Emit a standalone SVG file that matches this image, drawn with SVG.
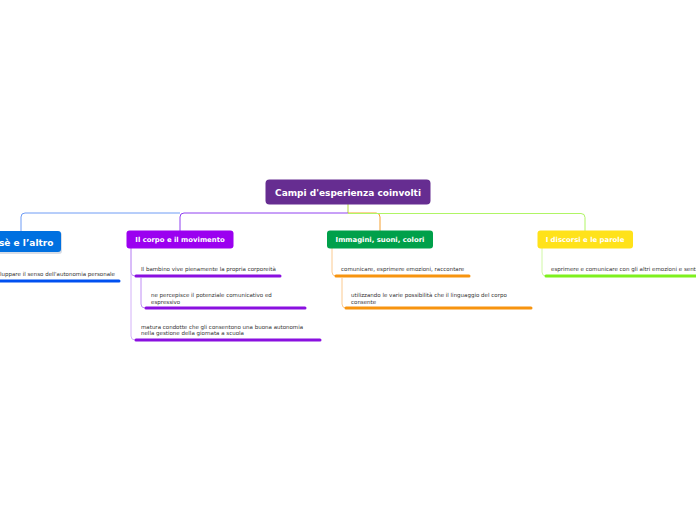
<svg xmlns="http://www.w3.org/2000/svg" width="696" height="520" viewBox="0 0 696 520">
<style>
.bg{fill:#ffffff}
.nt{font-family:"DejaVu Sans",Verdana,sans-serif;font-weight:bold;fill:#ffffff}
.ct{font-family:"DejaVu Sans",Verdana,sans-serif;font-size:5.5px;fill:#333333}
.c{fill:none;stroke-width:1}
.u{fill:none;stroke-width:3;stroke-linecap:round}
</style>
<rect class="bg" width="696" height="520"/>
<g id="connectors">
  <path class="c" d="M348 204 V213" stroke="#b5d93a"/>
  <path class="c" d="M180 213 H25 Q21 213 21 217 V232" stroke="#6f9cf5"/>
  <path class="c" d="M348 213 H184 Q180 213 180 217 V231" stroke="#9040f0"/>
  <path class="c" d="M348 213 H376 Q380 213 380 217 V231" stroke="#f5a030"/>
  <path class="c" d="M348 213.5 H581 Q585 213.5 585 217.5 V231" stroke="#b0f565"/>
  <path class="c" d="M131 248 V272 Q131 276 135 276" stroke="#c08ef5"/>
  <path class="c" d="M131 248 V336 Q131 340 135 340" stroke="#d4b2f8"/>
  <path class="c" d="M141 278 V304 Q141 308 145 308" stroke="#c08ef5"/>
  <path class="c" d="M332 248 V272 Q332 276 336 276" stroke="#fbca90"/>
  <path class="c" d="M342 278 V304 Q342 308 346 308" stroke="#fbca90"/>
  <path class="c" d="M542 248 V272 Q542 276 546 276" stroke="#d0f8a5"/>
</g>
<g id="root">
  <rect x="265.5" y="179.5" width="165" height="25" rx="4" fill="#662d91"/>
  <text class="nt" x="348" y="195.5" font-size="9" text-anchor="middle">Campi d'esperienza coinvolti</text>
</g>
<g id="n-se">
  <rect x="-20" y="232" width="82" height="22" rx="3" fill="#d8dde6"/>
  <rect x="-20" y="231" width="81" height="21" rx="3" fill="#0070e0"/>
  <text class="nt" x="-1" y="245.5" font-size="9">sè e l’altro</text>
</g>
<g id="c-se">
  <text class="ct" x="0" y="275.5">luppare il senso dell'autonomia personale</text>
  <path class="u" d="M0 281 H119" stroke="#0050f0"/>
</g>
<g id="n-corpo">
  <rect x="126.5" y="230.5" width="107" height="18" rx="3" fill="#9b00f0"/>
  <text class="nt" x="180" y="242.3" font-size="6.9" text-anchor="middle">Il corpo e il movimento</text>
</g>
<g id="c-corpo-1">
  <text class="ct" x="141" y="271">Il bambino vive pienamente la propria corporeità</text>
  <path class="u" d="M136 276 H280" stroke="#8a10e0"/>
</g>
<g id="c-corpo-2">
  <text class="ct" x="151" y="297">ne percepisce il potenziale comunicativo ed</text>
  <text class="ct" x="151" y="303.5">espressivo</text>
  <path class="u" d="M146 308 H305" stroke="#8a10e0"/>
</g>
<g id="c-corpo-3">
  <text class="ct" x="141" y="328.5">matura condotte che gli consentono una buona autonomia</text>
  <text class="ct" x="141" y="335">nella gestione della giornata a scuola</text>
  <path class="u" d="M136 340 H320" stroke="#8a10e0"/>
</g>
<g id="n-immagini">
  <rect x="327" y="230.5" width="106" height="18" rx="3" fill="#00a04a"/>
  <text class="nt" x="380" y="242.3" font-size="6.9" text-anchor="middle">Immagini, suoni, colori</text>
</g>
<g id="c-imm-1">
  <text class="ct" x="341" y="271">comunicare, esprimere emozioni, raccontare</text>
  <path class="u" d="M336 276 H469" stroke="#f7940f"/>
</g>
<g id="c-imm-2">
  <text class="ct" x="351" y="297">utilizzando le varie possibilità che il linguaggio del corpo</text>
  <text class="ct" x="351" y="303.5">consente</text>
  <path class="u" d="M346 308 H531" stroke="#f7940f"/>
</g>
<g id="n-discorsi">
  <rect x="537.5" y="230.5" width="95.5" height="18" rx="3" fill="#ffe21a"/>
  <text class="nt" x="585" y="242.3" font-size="6.9" text-anchor="middle">I discorsi e le parole</text>
</g>
<g id="c-disc-1">
  <text class="ct" x="551" y="271">esprimere e comunicare con gli altri emozioni e sentimenti</text>
  <path class="u" d="M546 276 H698" stroke="#7ef01e"/>
</g>
</svg>
